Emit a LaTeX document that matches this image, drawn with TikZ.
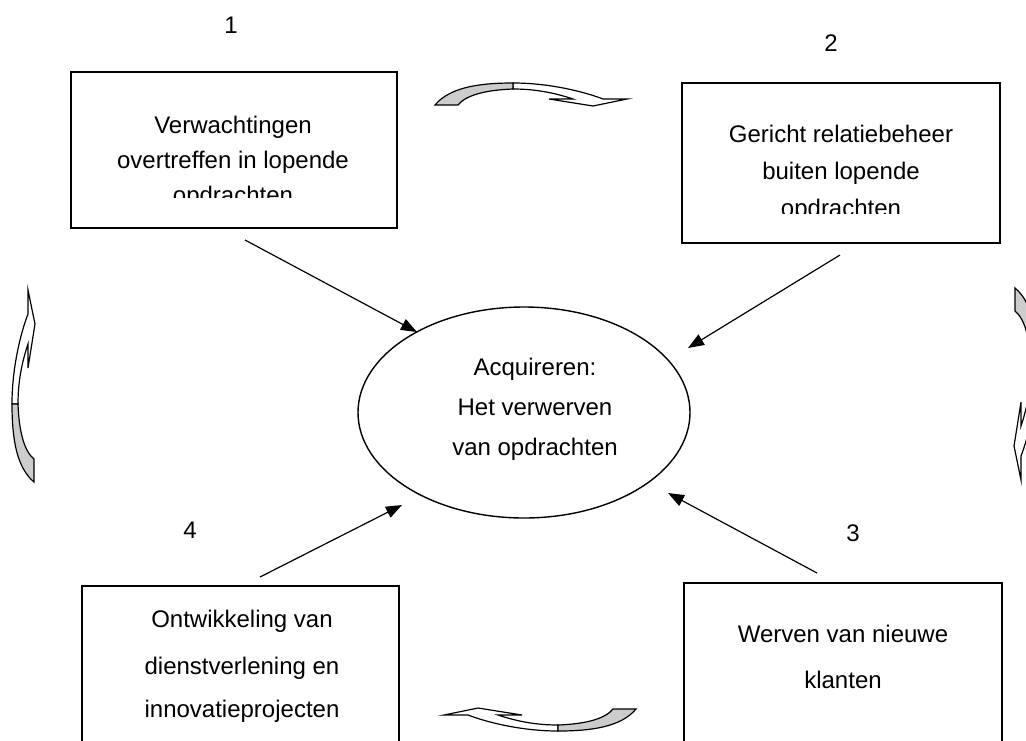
\documentclass[tikz,border=0pt]{standalone}
\usepackage{fontspec}
\setmainfont{Liberation Sans}
\usetikzlibrary{shapes.geometric,arrows.meta}

\tikzset{
  curvedarrow/.pic={
    % front of the band and the head
    \draw[line width=0.6pt, fill=white] (-18,-12) .. controls (19,-12) and (54,-3) .. (72,4) -- (96,4) -- (62,11) -- (18,4) -- (42,4) .. controls (24,-2) and (5,-6) .. (-18,-6) -- cycle;
    % back of the band
    \draw[line width=0.6pt, fill=gray!40] (-96,10) .. controls (-81,-8) and (-51,-12) .. (-18,-12) -- (-18,-6) .. controls (-45,-5) and (-65,0) .. (-73,10) -- cycle;
  }
}

\begin{document}
\begin{tikzpicture}[x=0.5pt, y=-0.5pt,
    every node/.style={font=\fontsize{12}{17.5}\selectfont},
    box/.style={draw, line width=0.7pt, inner sep=0pt},
    txt/.style={align=center, anchor=base, inner sep=0pt},
    conn/.style={-{Triangle[length=8pt,width=6pt]}, line width=0.6pt}]

    \clip (0,0) rectangle (1026,740);

    % Numbers
    \node[txt] (n1) at (231,33) {1};
    \node[txt] (n2) at (831,51) {2};
    \node[txt] (n3) at (853,541) {3};
    \node[txt] (n4) at (190,538) {4};

    % Boxes
    \node[box, minimum width=163pt, minimum height=78pt] (b1) at (234,150) {};
    \node[box, minimum width=159pt, minimum height=80pt] (b2) at (841,163) {};
    \node[box, minimum width=159pt, minimum height=98.5pt] (b3) at (843,681.5) {};
    \node[box, minimum width=158.5pt, minimum height=97pt] (b4) at (240.5,683) {};

    % Box texts (base = last line)
    \begin{scope}
      \clip (71,72) rectangle (397,197);
      \node[txt] (t1) at (233,203) {Verwachtingen\\overtreffen in lopende\\opdrachten};
    \end{scope}
    \begin{scope}
      \clip (682,83) rectangle (1000,213);
      \node[txt] (t2) at (841,216) {Gericht relatiebeheer\\[0.85pt]buiten lopende\\[0.85pt]opdrachten};
    \end{scope}
    \node[txt] (t3) at (843,688) {Werven van nieuwe\\[5.35pt]klanten};
    \node[txt] (t4) at (242,717) {Ontwikkeling van\\[5.85pt]dienstverlening en\\[3.85pt]innovatieprojecten};

    % Centre
    \node[draw, ellipse, line width=0.7pt, inner sep=0pt, minimum width=166pt, minimum height=105.5pt] (acq) at (524,412.5) {};
    \node[txt] (acqtext) at (535,455) {Acquireren:\\[2.5pt]Het verwerven\\[2.5pt]van opdrachten};

    % Arrows
    \coordinate (s1) at (245,240);
    \coordinate (e1) at (417,332);
    \coordinate (s2) at (840,255);
    \coordinate (e2) at (688,348);
    \coordinate (s3) at (817,573);
    \coordinate (e3) at (668,493);
    \coordinate (s4) at (260,577);
    \coordinate (e4) at (402,505);
    \draw[conn] (s1) -- (e1);
    \draw[conn] (s2) -- (e2);
    \draw[conn] (s3) -- (e3);
    \draw[conn] (s4) -- (e4);

    % Curved arrows
    \pic at (531,95) {curvedarrow};
    \pic[rotate=-90] at (1025,384) {curvedarrow};
    \pic[rotate=180] at (540,719) {curvedarrow};
    \pic[rotate=90] at (24,386) {curvedarrow};

\end{tikzpicture}
\end{document}
